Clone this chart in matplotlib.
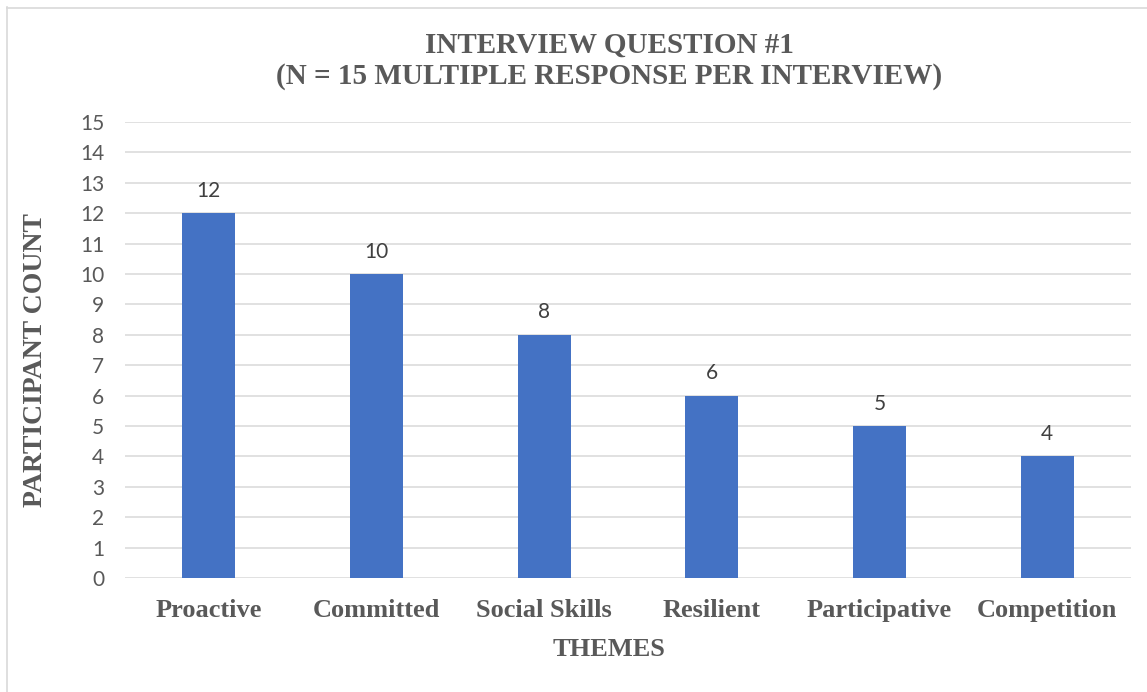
import matplotlib
matplotlib.use("Agg")
import matplotlib.pyplot as plt
from matplotlib.lines import Line2D

# data
themes = ["Proactive", "Committed", "Social Skills", "Resilient", "Participative", "Competition"]
counts = [12, 10, 8, 6, 5, 4]
y_ticks = list(range(0, 16))

TITLE = "INTERVIEW QUESTION #1\n(N = 15 MULTIPLE RESPONSE PER INTERVIEW)"
X_LABEL = "THEMES"
Y_LABEL = "PARTICIPANT COUNT"

BAR_BLUE = "#4472C4"
TEXT_GRAY = "#595959"
GRID_GRAY = "#D9D9D9"
SERIF = "Liberation Serif"
SANS = "Lato"

W, H = 1147, 692
fig = plt.figure(figsize=(W / 100, H / 100), dpi=100)
ax = fig.add_axes([125 / W, 1 - 578 / H, (1131 - 125) / W, (578 - 122) / H])

x = list(range(len(themes)))
bars = ax.bar(x, counts, width=0.316, color=BAR_BLUE, zorder=3)

for rect, val in zip(bars, counts):
    ax.annotate(str(val), (rect.get_x() + rect.get_width() / 2, rect.get_height()),
                xytext=(0, 9), textcoords="offset points", ha="center", va="bottom",
                fontsize=15, color="#404040", family=SANS)

ax.set_xlim(-0.5, len(themes) - 0.5)
ax.set_ylim(0, 15)
ax.set_yticks(y_ticks)
ax.set_yticklabels([str(v) for v in y_ticks], family=SANS, fontsize=15, color=TEXT_GRAY)
ax.set_xticks(x)
ax.set_xticklabels(themes, family=SERIF, fontweight="bold", fontsize=19, color=TEXT_GRAY)
ax.tick_params(axis="y", length=0, pad=15)
ax.tick_params(axis="x", length=0, pad=15)

ax.grid(axis="y", color=GRID_GRAY, lw=1.1, zorder=0)
for s in ax.spines.values():
    s.set_visible(False)

fig.text(609 / W, 1 - 61 / H, TITLE, ha="center", va="center", family=SERIF,
         fontweight="bold", fontsize=21, color=TEXT_GRAY, linespacing=1.2)
fig.text(609 / W, 1 - 649 / H, X_LABEL, ha="center", va="center", family=SERIF,
         fontweight="bold", fontsize=19, color=TEXT_GRAY)
fig.text(36 / W, 1 - 360 / H, Y_LABEL, ha="center", va="center", rotation=90,
         family=SERIF, fontweight="bold", fontsize=20, color=TEXT_GRAY)

# chart-area border (only left and top edges visible in the crop)
fig.add_artist(Line2D([6.5 / W, 6.5 / W], [0, 1 - 7 / H], color=GRID_GRAY, lw=1.2))
fig.add_artist(Line2D([6.5 / W, 1], [1 - 7.5 / H, 1 - 7.5 / H], color=GRID_GRAY, lw=1.2))

fig.savefig("out.png", dpi=100)
